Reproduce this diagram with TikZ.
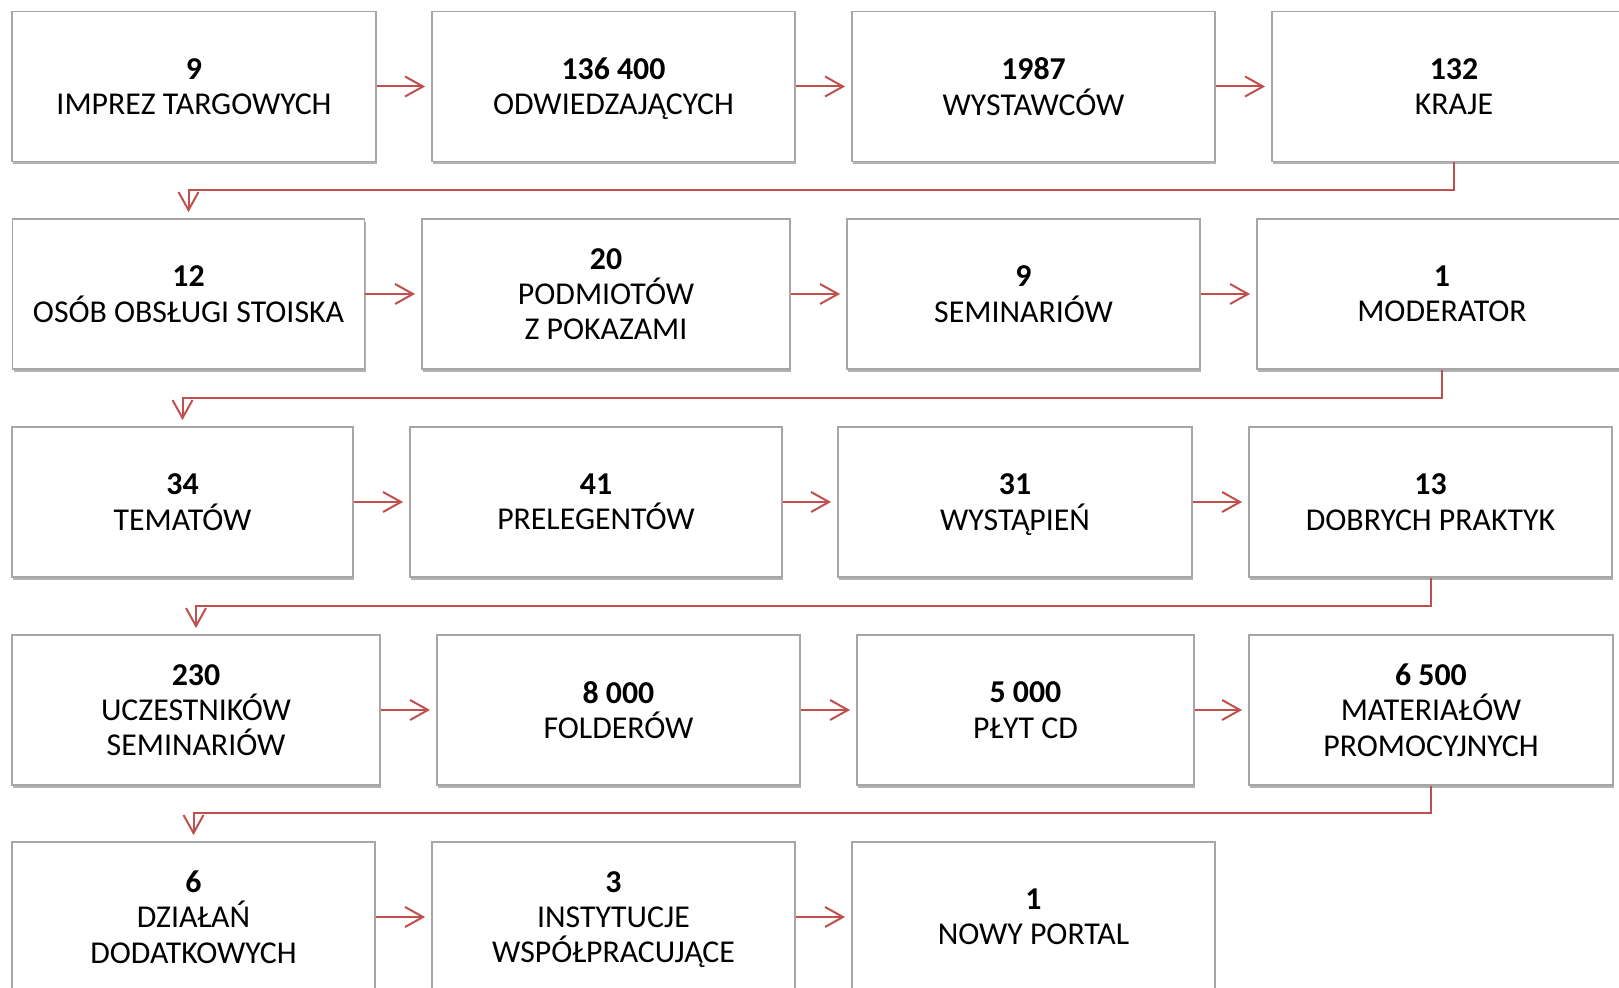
\documentclass[tikz,border=0pt]{standalone}
\usepackage{fontspec}
\setmainfont{Carlito}
\usetikzlibrary{arrows.meta,shadows,calc}
\definecolor{boxgray}{HTML}{A6A6A6}
\definecolor{flowred}{HTML}{C0504D}

\begin{document}
\begin{tikzpicture}
[ x=0.5pt, y=-0.5pt
, stat/.style={rectangle, draw=boxgray, line width=0.9pt, fill=white, minimum height=75pt,
    inner sep=0pt, align=center, text depth=-0.5pt, font=\fontsize{15.9}{17.6}\selectfont,
    drop shadow={shadow xshift=0.6pt, shadow yshift=-1.4pt, opacity=0.3, fill=black}}
, flow/.style={draw=flowred, line width=1pt, -{Straight Barb[length=9pt,width=10pt,line width=1pt]}, shorten >=3pt}
]
\useasboundingbox (0,0) rectangle (1619,988);
% First row:
\node (imprezy) [stat, minimum width=182pt] at (194,86.5) {\textbf{9}\\IMPREZ TARGOWYCH};
\node (odwiedz) [stat, minimum width=181.5pt] at (613.5,86.5) {\textbf{136 400}\\ODWIEDZAJĄCYCH};
\node (wystawcy) [stat, minimum width=181.5pt] at (1033.5,86.5) {\textbf{1987}\\WYSTAWCÓW};
\node (kraje) [stat, minimum width=182pt] at (1454,86.5) {\textbf{132}\\KRAJE};
% Second row:
\node (obsluga) [stat, minimum width=176pt] at (188.5,294) {\textbf{12}\\OSÓB OBSŁUGI STOISKA};
\node (pokazy) [stat, minimum width=184pt] at (606,294) {\textbf{20}\\PODMIOTÓW\\Z POKAZAMI};
\node (seminaria) [stat, minimum width=176.5pt] at (1023.5,294) {\textbf{9}\\SEMINARIÓW};
\node (moderator) [stat, minimum width=185pt] at (1442,294) {\textbf{1}\\MODERATOR};
% Third row:
\node (tematy) [stat, minimum width=170.5pt] at (182.5,502) {\textbf{34}\\TEMATÓW};
\node (prelegenci) [stat, minimum width=186pt] at (596,502) {\textbf{41}\\PRELEGENTÓW};
\node (wystapienia) [stat, minimum width=177pt] at (1015,502) {\textbf{31}\\WYSTĄPIEŃ};
\node (praktyki) [stat, minimum width=181.5pt] at (1430.5,502) {\textbf{13}\\DOBRYCH PRAKTYK};
% Fourth row:
\node (uczestnicy) [stat, minimum width=184pt] at (196,710) {\textbf{230}\\UCZESTNIKÓW\\SEMINARIÓW};
\node (foldery) [stat, minimum width=181.5pt] at (618.5,710) {\textbf{8 000}\\FOLDERÓW};
\node (plyty) [stat, minimum width=168.5pt] at (1025.5,710) {\textbf{5 000}\\PŁYT CD};
\node (materialy) [stat, minimum width=182pt] at (1431,710) {\textbf{6 500}\\MATERIAŁÓW\\PROMOCYJNYCH};
% Fifth row:
\node (dzialania) [stat, minimum width=181.5pt] at (193.5,917) {\textbf{6}\\DZIAŁAŃ\\DODATKOWYCH};
\node (instytucje) [stat, minimum width=181.5pt] at (613.5,917) {\textbf{3}\\INSTYTUCJE\\WSPÓŁPRACUJĄCE};
\node (portal) [stat, minimum width=181.5pt] at (1033.5,917) {\textbf{1}\\NOWY PORTAL};

\draw [flow] (imprezy) -- (odwiedz);
\draw [flow] (odwiedz) -- (wystawcy);
\draw [flow] (wystawcy) -- (kraje);
\draw [flow] (kraje.south) |- ($(kraje.south)!.5!(obsluga.north)$) -| (obsluga.north);
\draw [flow] (obsluga) -- (pokazy);
\draw [flow] (pokazy) -- (seminaria);
\draw [flow] (seminaria) -- (moderator);
\draw [flow] (moderator.south) |- ($(moderator.south)!.5!(tematy.north)$) -| (tematy.north);
\draw [flow] (tematy) -- (prelegenci);
\draw [flow] (prelegenci) -- (wystapienia);
\draw [flow] (wystapienia) -- (praktyki);
\draw [flow] (praktyki.south) |- ($(praktyki.south)!.5!(uczestnicy.north)$) -| (uczestnicy.north);
\draw [flow] (uczestnicy) -- (foldery);
\draw [flow] (foldery) -- (plyty);
\draw [flow] (plyty) -- (materialy);
\draw [flow] (materialy.south) |- ($(materialy.south)!.5!(dzialania.north)$) -| (dzialania.north);
\draw [flow] (dzialania) -- (instytucje);
\draw [flow] (instytucje) -- (portal);
\end{tikzpicture}
\end{document}
